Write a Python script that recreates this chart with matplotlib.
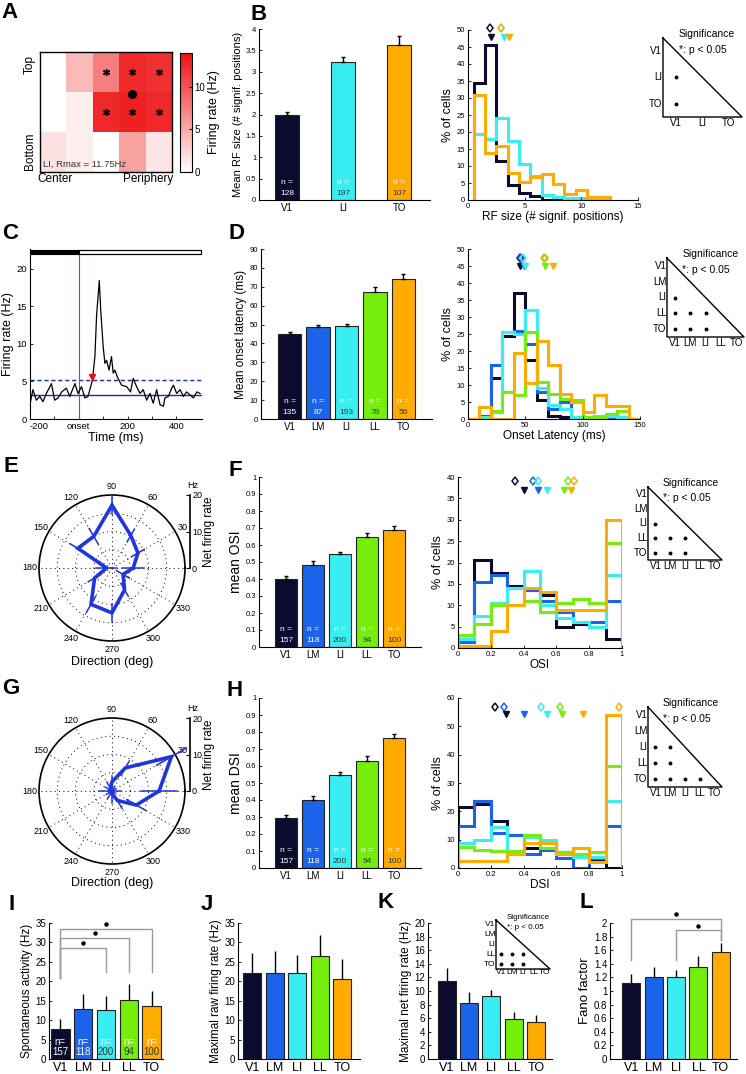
import numpy as np
import matplotlib
matplotlib.use('Agg')
import matplotlib.pyplot as plt
from matplotlib.colors import LinearSegmentedColormap
from matplotlib.ticker import FuncFormatter
import matplotlib.transforms as mtransforms

plt.rcParams['font.family'] = ['Liberation Sans', 'DejaVu Sans']
plt.rcParams['axes.unicode_minus'] = False
plt.rcParams['axes.linewidth'] = 0.8

# ---------------------------------------------------------------- data
AREAS5 = ['V1', 'LM', 'LI', 'LL', 'TO']
AREAS3 = ['V1', 'LI', 'TO']
COLORS5 = ['#0b0b2e', '#1b63e8', '#38eef2', '#74ee0a', '#ffab00']
COLORS3 = ['#0b0b2e', '#38eef2', '#ffab00']

# A  receptive-field map (Hz), rows top->bottom, cols center->periphery
rf_map = [[0.0, 4.0, 7.5, 12.5, 12.0],
          [0.0, 1.0, 12.5, 13.0, 12.5],
          [1.8, 1.0, 0.0, 5.5, 1.5]]
rf_sig_rows = [0, 0, 0, 1, 1, 1]
rf_sig_cols = [2, 3, 4, 2, 3, 4]
rf_center_col = 3.5
rf_center_row = 1.05

# B  RF size
rf_mean = [2.0, 3.22, 3.62]
rf_sem = [0.07, 0.12, 0.22]
rf_n = [128, 197, 107]
rf_median = [1.9, 2.95, 2.95]
rf_edges = [0.5, 1.5, 2.5, 3.5, 4.5, 5.5, 6.5, 7.5, 8.5, 9.5, 10.5, 11.5, 12.5]
rf_hist_V1 = [34.5, 45.5, 11.5, 4.5, 2.2, 1.2, 0.0, 0.0]
rf_hist_LI = [19.5, 17.8, 24.0, 17.5, 10.5, 7.0, 1.5, 1.0, 0.5, 0.5, 0.3, 0.3]
rf_hist_TO = [31.0, 13.8, 16.0, 8.0, 5.4, 6.9, 7.6, 4.6, 1.8, 2.9, 1.0, 1.0]
rf_sig_pairs = [('LI', 'V1'), ('TO', 'V1')]

# C  PSTH
psth_t = [-199, -188, -174, -160, -147, -133, -112, -99, -85, -70, -51, -37, -16, -3,
          11, 25, 38, 56, 66, 73, 84, 90, 100, 107, 114, 124, 134, 141, 148, 158, 175,
          196, 212, 223, 237, 251, 264, 278, 292, 305, 319, 333, 347, 353, 367, 381,
          388, 401, 415, 429, 442, 456, 470, 484, 497]
psth_r = [2.1, 3.9, 2.5, 3.0, 2.3, 3.4, 4.7, 2.5, 2.8, 3.6, 4.1, 3.0, 4.7, 3.4,
          4.3, 2.8, 3.0, 5.2, 8.3, 13.8, 18.4, 14.4, 9.6, 7.4, 7.8, 6.5, 8.3, 6.1, 6.5, 5.6, 4.5,
          4.3, 3.6, 5.4, 4.3, 3.4, 3.9, 2.5, 3.4, 2.1, 3.9, 1.9, 1.7, 2.8, 3.0, 4.1,
          4.5, 3.4, 3.9, 3.0, 3.6, 3.2, 2.8, 3.6, 3.4]
psth_baseline = 3.25
psth_threshold = 5.2
psth_onset = (56, 5.6)

# D  onset latency
lat_mean = [45.0, 48.5, 49.5, 67.5, 74.0]
lat_sem = [1.0, 1.5, 0.8, 2.5, 3.0]
lat_n = [135, 87, 193, 78, 56]
lat_median = [45.0, 46.5, 48.0, 66.0, 67.5]
lat_edges = [0, 10, 20, 30, 40, 50, 60, 70, 80, 90, 100, 110, 120, 130, 140, 150]
lat_hist = [
    [0, 0, 12, 24.5, 37, 17.5, 5.5, 1, 0.5, 0.5, 0, 1, 0.5, 0, 0],
    [0, 1, 16, 25.5, 26, 22, 8, 3, 5, 0, 0, 0.5, 0.5, 0, 0],
    [0, 0.5, 2, 25.5, 25, 32, 9, 4, 3, 0.5, 0.2, 1, 1, 0.5, 0],
    [0, 0, 2.5, 8, 7, 25.5, 11, 7.5, 6, 5.5, 0.5, 0.5, 1.5, 2.5, 0],
    [0, 3.5, 0, 0, 19.5, 10.5, 23, 16, 7.5, 5, 2, 7, 3.7, 3.7, 0],
]
lat_sig_pairs = [('LI', 'V1'), ('LL', 'V1'), ('LL', 'LM'), ('LL', 'LI'),
                 ('TO', 'V1'), ('TO', 'LM'), ('TO', 'LI')]

# E / G  direction tuning
dir_deg = [0, 30, 60, 90, 120, 150, 180, 210, 240, 270, 300, 330]
E_rate = [5.8, 8.2, 10.3, 17.2, 10.0, 10.8, 1.5, 5.5, 11.5, 12.3, 6.9, 3.5]
E_err = [3.0, 2.0, 2.0, 2.5, 2.5, 2.5, 3.0, 2.0, 2.5, 2.5, 2.0, 2.0]
G_rate = [12.9, 18.8, 7.3, 2.5, 0.8, 0.6, 0.5, 0.3, 0.5, 0.8, 3.0, 7.7]
G_err = [5.0, 4.7, 2.0, 1.5, 2.0, 1.5, 3.0, 1.5, 2.0, 2.5, 2.5, 3.0]

# F  OSI
osi_mean = [0.40, 0.485, 0.545, 0.645, 0.69]
osi_sem = [0.015, 0.02, 0.012, 0.025, 0.02]
osi_n = [157, 118, 200, 94, 100]
osi_median = [0.35, 0.46, 0.49, 0.67, 0.71]
idx_edges = [0, 0.1, 0.2, 0.3, 0.4, 0.5, 0.6, 0.7, 0.8, 0.9, 1.0]
osi_hist = [
    [1.5, 20.5, 17.5, 14.5, 13.5, 12.5, 5, 5.5, 5, 2],
    [1.5, 15.5, 17, 14, 13.5, 11, 8.5, 6, 6, 11],
    [2, 7.5, 10.5, 14, 18, 10, 7, 6, 5, 17],
    [3, 5.5, 10, 10, 11, 8.5, 10.5, 11.5, 10.5, 24.5],
    [0.5, 0.5, 4, 10, 14, 13, 9, 9, 9, 30],
]
osi_sig_pairs = lat_sig_pairs

# H  DSI
dsi_mean = [0.295, 0.40, 0.545, 0.632, 0.762]
dsi_sem = [0.015, 0.025, 0.018, 0.028, 0.025]
dsi_n = [157, 118, 200, 94, 100]
dsi_median = [0.225, 0.28, 0.505, 0.62, 0.98]
dsi_hist = [
    [21.5, 22.5, 16.5, 11.5, 7, 7, 5.5, 4.5, 2.5, 0],
    [15, 23.5, 12.5, 11.5, 5, 6.5, 3.5, 0, 3.5, 15],
    [9, 10, 14.5, 6, 11, 10, 5.5, 4, 4, 23.5],
    [7.5, 6.5, 6, 6, 11.5, 7, 5.5, 5, 5.5, 36],
    [2.5, 2.5, 2.5, 5, 9, 9, 5, 7, 2, 54],
]
dsi_sig_pairs = [('LI', 'V1'), ('LI', 'LM'), ('LL', 'V1'), ('LL', 'LM'),
                 ('TO', 'V1'), ('TO', 'LM'), ('TO', 'LI'), ('TO', 'LL')]

# I-L
spont = [7.8, 12.9, 12.7, 15.1, 13.6]
spont_err = [2.6, 3.8, 3.5, 4.3, 3.8]
spont_n = [157, 118, 200, 94, 100]
spont_brackets = [(1, 3, 28.6, 20.8, 22.5), (1, 4, 31.1, 20.8, 22.5), (1, 5, 33.4, 20.8, 22.5)]
maxraw = [22.1, 22.1, 22.2, 26.4, 20.7]
maxraw_err = [5.2, 5.6, 4.6, 5.5, 5.0]
maxnet = [11.4, 8.3, 9.2, 5.9, 5.5]
maxnet_err = [2.0, 1.6, 1.0, 1.0, 0.9]
maxnet_sig_pairs = [('LL', 'V1'), ('LL', 'LM'), ('LL', 'LI'), ('TO', 'V1'), ('TO', 'LM'), ('TO', 'LI')]
fano = [1.12, 1.20, 1.21, 1.35, 1.57]
fano_err = [0.13, 0.16, 0.10, 0.17, 0.13]
fano_brackets = [(1, 5, 2.06, 1.45, 1.75), (3, 5, 1.89, 1.45, 1.75)]

# ---------------------------------------------------------------- helpers
W, H = 746, 1074
fig = plt.figure(figsize=(W / 100, H / 100), dpi=100)


def R(x0, y0, x1, y1):
    return [x0 / W, 1 - y1 / H, (x1 - x0) / W, (y1 - y0) / H]


gfmt = FuncFormatter(lambda v, p: '%g' % round(v, 3))


def style(ax):
    for s in ['top', 'right']:
        ax.spines[s].set_visible(False)
    ax.tick_params(direction='in', length=2, width=0.6, pad=2)


def is_dark(c):
    r, g, b = matplotlib.colors.to_rgb(c)
    return 0.299 * r + 0.587 * g + 0.114 * b < 0.45


def bar_panel(rect, areas, colors, vals, errs, xlim, ylim, yticks, width, ylabel,
              ns=None, tick_fs=5.5, xtick_fs=7, label_fs=8, n_fs=6, capsize=1.5,
              n_y=(0.105, 0.04), n_word='n ='):
    ax = fig.add_axes(R(*rect))
    style(ax)
    x = np.arange(1, len(vals) + 1)
    ax.bar(x, vals, width=width, color=colors, edgecolor='#222222', linewidth=0.8, zorder=2)
    ax.errorbar(x, vals, yerr=[np.zeros(len(vals)), errs], fmt='none', ecolor='k',
                elinewidth=1, capsize=capsize, capthick=1, zorder=3)
    ax.set_xlim(*xlim)
    ax.set_ylim(*ylim)
    ax.set_yticks(yticks)
    ax.yaxis.set_major_formatter(gfmt)
    ax.set_xticks(x)
    ax.set_xticklabels(areas, fontsize=xtick_fs)
    ax.tick_params(axis='y', labelsize=tick_fs)
    ax.set_ylabel(ylabel, fontsize=label_fs, labelpad=2)
    if ns is not None:
        tr = mtransforms.blended_transform_factory(ax.transData, ax.transAxes)
        for xi, n, c in zip(x, ns, colors):
            c2 = 'white' if is_dark(c) else '#2a3a3a'
            ax.text(xi, n_y[0], n_word, transform=tr, ha='center', va='center',
                    fontsize=n_fs, color='white', zorder=4)
            ax.text(xi, n_y[1], str(n), transform=tr, ha='center', va='center',
                    fontsize=n_fs, color=c2, zorder=4)
    return ax


def hist_panel(rect, edges, hists, colors, xlim, ylim, xticks, yticks, xlabel,
               medians, means, ydia, ytri, tick_fs=5.5):
    ax = fig.add_axes(R(*rect))
    style(ax)
    for h, c in zip(hists, colors):
        ax.stairs(h, edges[:len(h) + 1], color=c, lw=2.2, baseline=0)
    for m, c in zip(medians, colors):
        ax.plot([m], [ydia], marker='d', ms=4.5, mfc='none', mec=c, mew=1.1,
                linestyle='none', clip_on=False)
    for m, c in zip(means, colors):
        ax.plot([m], [ytri], marker='v', ms=4.5, color=c, linestyle='none', clip_on=False)
    ax.set_xlim(*xlim)
    ax.set_ylim(*ylim)
    ax.set_xticks(xticks)
    ax.set_yticks(yticks)
    ax.xaxis.set_major_formatter(gfmt)
    ax.yaxis.set_major_formatter(gfmt)
    ax.tick_params(labelsize=tick_fs)
    ax.set_xlabel(xlabel, fontsize=8.5, labelpad=1)
    ax.set_ylabel('% of cells', fontsize=9, labelpad=2)
    return ax


def sig_triangle(rect, areas, pairs, lab_fs=7, title_fs=7.5, dot_ms=3):
    ax = fig.add_axes(R(*rect))
    n = len(areas)
    ax.set_xlim(0.5, n + 0.5)
    ax.set_ylim(n + 0.5, 0.5)
    ax.axis('off')
    ax.plot([0.5, 0.5, n + 0.5, 0.5], [0.5, n + 0.5, n + 0.5, 0.5], color='k',
            lw=1, clip_on=False)
    for i, a in enumerate(areas):
        ax.text(0.47, i + 1, a, ha='right', va='center', fontsize=lab_fs)
        ax.text(i + 1, n + 0.55, a, ha='center', va='top', fontsize=lab_fs)
    rows = [areas.index(p[0]) + 1 for p in pairs]
    cols = [areas.index(p[1]) + 1 for p in pairs]
    ax.plot(cols, rows, 'o', color='k', ms=dot_ms * 0.6, clip_on=False)
    ax.text(0.2, 1.05, 'Significance', transform=ax.transAxes, ha='left',
            va='center', fontsize=title_fs)
    ax.text(0.2, 0.85, '*: p < 0.05', transform=ax.transAxes, ha='left',
            va='center', fontsize=title_fs)
    return ax


def polar_panel(cx, cy, rad, rates, errs, color='#1f35e0'):
    ax = fig.add_axes(R(cx - rad, cy - rad, cx + rad, cy + rad), projection='polar')
    ax.set_ylim(0, 20)
    th = np.deg2rad(dir_deg)
    ax.set_xticks(th)
    ax.set_xticklabels([])
    ax.set_yticks([5, 10, 15])
    ax.set_yticklabels([])
    ax.grid(True, color='k', linestyle=(0, (1, 3.5)), lw=0.7)
    ax.spines['polar'].set_linewidth(1.2)
    for a, t in zip(dir_deg, th):
        if a == 0:
            continue
        ax.text(t, 22.4, str(a), ha='center', va='center', fontsize=6.5, clip_on=False)
    rr = np.array(rates)
    ax.plot(np.append(th, th[0]), np.append(rr, rr[0]), color=color, lw=2.6,
            solid_joinstyle='miter', zorder=3)
    for t, r, e in zip(th, rates, errs):
        lo, hi = r - e, r + e
        if lo >= 0:
            ax.plot([t, t], [lo, hi], color=color, lw=1.1, zorder=3, clip_on=False)
        else:
            ax.plot([t, t], [0, hi], color=color, lw=1.1, zorder=3, clip_on=False)
            ax.plot([t + np.pi, t + np.pi], [0, -lo], color=color, lw=1.1, zorder=3)
    return ax


def scale_bar(x, y0, y1):
    ax = fig.add_axes(R(x - 6, y0, x, y1))
    ax.set_ylim(0, 20)
    ax.set_xlim(0, 1)
    for s in ['top', 'left', 'bottom']:
        ax.spines[s].set_visible(False)
    ax.spines['right'].set_linewidth(1.2)
    ax.set_xticks([])
    ax.yaxis.tick_right()
    ax.set_yticks([0, 10, 20])
    ax.tick_params(axis='y', direction='in', length=3, labelsize=6.5, pad=1.5)
    ax.yaxis.set_label_position('right')
    ax.set_ylabel('Net firing rate', fontsize=8.5, labelpad=1)
    ax.text(0.6, 1.07, 'Hz', transform=ax.transAxes, fontsize=6.5, ha='left', va='bottom')
    ax.patch.set_visible(False)


def bracket(ax, x1, x2, y, yl, yr, dy):
    ax.plot([x1, x1, x2, x2], [yl, y, y, yr], color='#9a9a9a', lw=1, clip_on=False)
    ax.plot([(x1 + x2) / 2], [y + dy], 'o', color='k', ms=2.2, clip_on=False)


def letter(x, y, s):
    fig.text(x / W, 1 - y / H, s, fontsize=16, fontweight='bold', ha='center', va='center')


# ---------------------------------------------------------------- A
axA = fig.add_axes(R(40, 52, 172, 172))
cmap = LinearSegmentedColormap.from_list('wr', ['#ffffff', '#ee1010'])
im = axA.imshow(rf_map, cmap=cmap, vmin=0, vmax=14, extent=(0, 5, 3, 0), aspect='auto')
axA.plot(np.array(rf_sig_cols) + 0.5, np.array(rf_sig_rows) + 0.5, linestyle='none',
         marker=(6, 2, 0), ms=5, mew=1, color='k')
axA.plot([rf_center_col], [rf_center_row], 'o', color='k', ms=5.5)
axA.set_xticks([])
axA.set_yticks([])
for s in axA.spines.values():
    s.set_linewidth(1.0)
axA.text(0.02, 0.06, 'LI, Rmax = 11.75Hz', transform=axA.transAxes, fontsize=6.8,
         color='#333333', ha='left', va='center')
axA.text(-0.075, 0.9, 'Top', transform=axA.transAxes, rotation=90, fontsize=8.5,
         ha='center', va='center')
axA.text(-0.075, 0.17, 'Bottom', transform=axA.transAxes, rotation=90, fontsize=8.5,
         ha='center', va='center')
axA.text(0.11, -0.06, 'Center', transform=axA.transAxes, fontsize=8.5, ha='center', va='center')
axA.text(0.82, -0.06, 'Periphery', transform=axA.transAxes, fontsize=8.5, ha='center', va='center')
cax = fig.add_axes(R(180, 53, 192, 172))
cb = fig.colorbar(im, cax=cax, ticks=[0, 5, 10])
cb.outline.set_linewidth(0.8)
cax.tick_params(labelsize=7, direction='in', length=2, pad=2)
cb.set_label('Firing rate (Hz)', fontsize=9, labelpad=2)

# ---------------------------------------------------------------- B
bar_panel((259, 29, 430, 200), AREAS3, COLORS3, rf_mean, rf_sem, (0.5, 3.55), (0, 4),
          [0, 0.5, 1, 1.5, 2, 2.5, 3, 3.5, 4], 0.43, 'Mean RF size (# signif. positions)',
          ns=rf_n)
hist_panel((468, 30, 638, 200), rf_edges, [rf_hist_V1, rf_hist_LI, rf_hist_TO], COLORS3,
           (0, 15), (0, 50), [0, 5, 10, 15], list(range(0, 55, 5)),
           'RF size (# signif. positions)', rf_median, rf_mean, 50.5, 48.0)
sig_triangle((663, 38, 742, 117), AREAS3, rf_sig_pairs)

# ---------------------------------------------------------------- C
axC = fig.add_axes(R(30, 249, 202, 419))
style(axC)
axC.set_xlim(-200, 505)
axC.set_ylim(0, 22.6)
axC.axhline(psth_baseline, color='#1428d8', lw=1)
axC.axhline(psth_threshold, color='#1428d8', lw=1, ls=(0, (3, 2)))
axC.axvline(0, color='#e83030', lw=0.8, ymax=21.9 / 22.6)
axC.plot(psth_t, psth_r, color='k', lw=0.9)
axC.plot([psth_onset[0]], [psth_onset[1]], marker='v', color='#e81010', ms=5)
axC.fill_between([-200, 0], 21.95, 22.5, color='k', lw=0)
axC.fill_between([0, 500], 21.95, 22.5, facecolor='white', edgecolor='k', lw=0.8)
axC.plot([-200, 500, 500, -200], [21.95, 21.95, 22.5, 22.5], color='k', lw=0.8)
axC.set_xticks([-200, -100, 0, 100, 200, 300, 400])
axC.set_xticklabels(['-200', '', 'onset', '', '200', '', '400'])
axC.get_xticklabels()[0].set_horizontalalignment('left')
axC.set_yticks([0, 5, 10, 15, 20])
axC.tick_params(labelsize=6.8)
axC.set_xlabel('Time (ms)', fontsize=9, labelpad=1)
axC.set_ylabel('Firing rate (Hz)', fontsize=9, labelpad=2)

# ---------------------------------------------------------------- D
bar_panel((261, 249, 432, 419), AREAS5, COLORS5, lat_mean, lat_sem, (0, 6), (0, 90),
          list(range(0, 100, 10)), 0.84, 'Mean onset latency (ms)', ns=lat_n, label_fs=8.5)
hist_panel((468, 249, 640, 419), lat_edges, lat_hist, COLORS5, (0, 150), (0, 50),
           [0, 50, 100, 150], list(range(0, 55, 5)), 'Onset Latency (ms)',
           lat_median, lat_mean, 47.3, 45.0)
sig_triangle((667, 258, 744, 337), AREAS5, lat_sig_pairs)

# ---------------------------------------------------------------- E
polar_panel(112, 568, 73, E_rate, E_err)
scale_bar(190, 495, 568)
fig.text(112 / W, 1 - 662 / H, 'Direction (deg)', fontsize=9, ha='center', va='center')

# ---------------------------------------------------------------- F
bar_panel((259, 477, 421, 647), AREAS5, COLORS5, osi_mean, osi_sem, (0, 6), (0, 1),
          [0, .1, .2, .3, .4, .5, .6, .7, .8, .9, 1], 0.81, 'mean OSI', ns=osi_n, label_fs=10)
hist_panel((458, 477, 622, 648), idx_edges, osi_hist, COLORS5, (0, 1), (0, 40),
           [0, .2, .4, .6, .8, 1], list(range(0, 45, 5)), 'OSI',
           osi_median, osi_mean, 39.0, 37.0)
sig_triangle((648, 487, 722, 560), AREAS5, osi_sig_pairs)

# ---------------------------------------------------------------- G
polar_panel(112, 791, 73, G_rate, G_err)
scale_bar(190, 718, 791)
fig.text(112 / W, 1 - 883 / H, 'Direction (deg)', fontsize=9, ha='center', va='center')

# ---------------------------------------------------------------- H
bar_panel((259, 698, 421, 868), AREAS5, COLORS5, dsi_mean, dsi_sem, (0, 6), (0, 1),
          [0, .1, .2, .3, .4, .5, .6, .7, .8, .9, 1], 0.81, 'mean DSI', ns=dsi_n, label_fs=10)
hist_panel((458, 698, 622, 868), idx_edges, dsi_hist, COLORS5, (0, 1), (0, 60),
           [0, .2, .4, .6, .8, 1], list(range(0, 70, 10)), 'DSI',
           dsi_median, dsi_mean, 57.0, 54.5)
sig_triangle((648, 707, 722, 787), AREAS5, dsi_sig_pairs)

# ---------------------------------------------------------------- I-L
axI = bar_panel((49, 923, 163, 1059), AREAS5, COLORS5, spont, spont_err, (0.5, 5.5), (0, 35),
                list(range(0, 40, 5)), 0.81, 'Spontaneous activity (Hz)', ns=spont_n,
                tick_fs=7, xtick_fs=9, label_fs=8.5, n_fs=7, capsize=0, n_y=(0.125, 0.05),
                n_word='n=')
for b in spont_brackets:
    bracket(axI, b[0], b[1], b[2], b[3], b[4], 1.3)
bar_panel((238, 923, 360, 1059), AREAS5, COLORS5, maxraw, maxraw_err, (0.36, 5.78), (0, 35),
          list(range(0, 40, 5)), 0.8, 'Maximal raw firing rate (Hz)',
          tick_fs=7, xtick_fs=9, label_fs=8.5, capsize=0)
bar_panel((428, 923, 552, 1059), AREAS5, COLORS5, maxnet, maxnet_err, (0.17, 5.71), (0, 20),
          list(range(0, 22, 2)), 0.8, 'Maximal net firing rate (Hz)',
          tick_fs=7, xtick_fs=9, label_fs=8.5, capsize=0)
sig_triangle((496, 920, 550, 969), AREAS5, maxnet_sig_pairs, lab_fs=6, title_fs=5.8, dot_ms=3)
axL = bar_panel((610, 923, 737, 1059), AREAS5, COLORS5, fano, fano_err, (0.04, 5.73), (0, 2),
                [0, .2, .4, .6, .8, 1, 1.2, 1.4, 1.6, 1.8, 2], 0.8, 'Fano factor',
                tick_fs=7, xtick_fs=9, label_fs=9.5, capsize=0)
for b in fano_brackets:
    bracket(axL, b[0], b[1], b[2], b[3], b[4], 0.07)

# ---------------------------------------------------------------- letters
for (x, y, s) in [(10, 13, 'A'), (259, 14, 'B'), (10, 234, 'C'), (236, 234, 'D'),
                  (11, 467, 'E'), (235, 470, 'F'), (11, 688, 'G'), (235, 690, 'H'),
                  (12, 904, 'I'), (207, 904, 'J'), (386, 902, 'K'), (586, 902, 'L')]:
    letter(x, y, s)

fig.savefig('out.png', dpi=100)
